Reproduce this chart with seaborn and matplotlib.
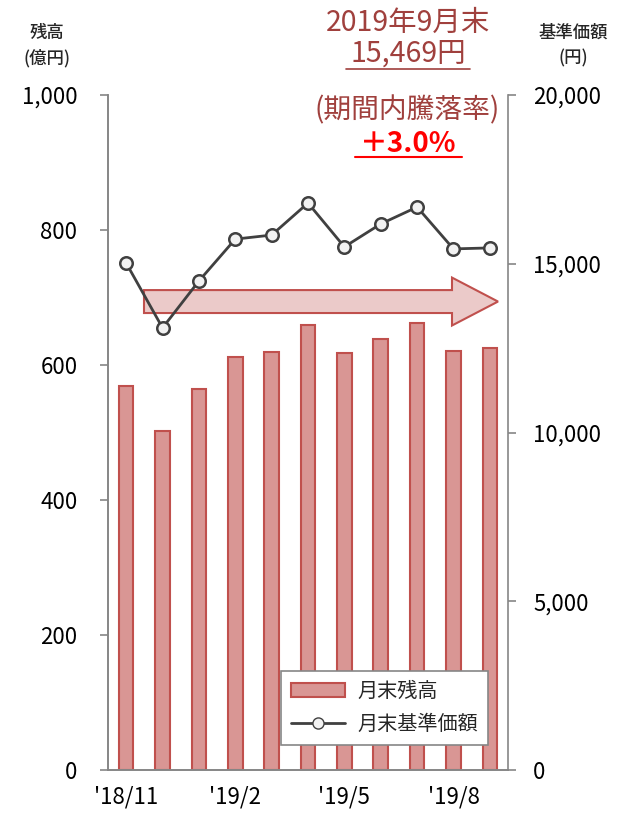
import numpy as np
import pandas as pd
import seaborn as sns
import matplotlib.pyplot as plt
from matplotlib.patches import Patch, FancyArrow
from matplotlib.lines import Line2D

# data
months = ["'18/11", "'18/12", "'19/1", "'19/2", "'19/3", "'19/4",
          "'19/5", "'19/6", "'19/7", "'19/8", "'19/9"]
balance = [569, 502, 564, 612, 619, 659, 618, 639, 662, 621, 625]   # 億円
nav = [15020, 13100, 14490, 15730, 15850, 16800, 15500, 16180, 16680, 15440, 15469]  # 円
shown_labels = {0: "'18/11", 3: "'19/2", 6: "'19/5", 9: "'19/8"}

sns.set_theme(style='white')
plt.rcParams['font.family'] = ['Noto Sans CJK JP', 'DejaVu Sans']

BAR = '#d99694'
BAR_EDGE = '#c0504d'
LINE = '#404040'
SPINE = '#868686'
TXT_RED = '#a0403d'

df = pd.DataFrame({'month': months, 'balance': balance, 'nav': nav})
df['idx'] = range(len(df))

fig = plt.figure(figsize=(6.28, 8.13), dpi=100)
ax = fig.add_axes([108 / 628, 43 / 813, 400 / 628, 675 / 813])

sns.barplot(data=df, x='idx', y='balance', ax=ax, color=BAR, saturation=1,
            width=0.4, edgecolor=BAR_EDGE, linewidth=1.5)
ax.set_xlim(-0.5, 10.5)
ax.set_ylim(0, 1000)
ax.set_yticks([0, 200, 400, 600, 800, 1000])
ax.set_yticklabels(['0', '200', '400', '600', '800', '1,000'])
ax.set_xticks(list(shown_labels.keys()))
ax.set_xticklabels(list(shown_labels.values()))
ax.set_xlabel('')
ax.set_ylabel('')

ax2 = ax.twinx()
sns.lineplot(data=df, x='idx', y='nav', ax=ax2, color=LINE, linewidth=2,
             marker='o', markersize=9, markerfacecolor='#f2f2f2',
             markeredgecolor=LINE, markeredgewidth=1.8)
ax2.set_ylim(0, 20000)
ax2.set_yticks([0, 5000, 10000, 15000, 20000])
ax2.set_yticklabels(['0', '5,000', '10,000', '15,000', '20,000'])
ax2.set_ylabel('')
ax2.set_xlim(-0.5, 10.5)

for a in (ax, ax2):
    for s in a.spines.values():
        s.set_color(SPINE)
        s.set_linewidth(1.2)
    a.spines['top'].set_visible(False)
ax.spines['right'].set_visible(False)
ax.tick_params(axis='y', left=True, length=6, width=1.2, color=SPINE,
               labelsize=16, pad=16, labelcolor='black')
ax.tick_params(axis='x', length=0, labelsize=16, pad=11, labelcolor='black')
ax2.tick_params(axis='y', right=True, length=6, width=1.2, color=SPINE,
                labelsize=16, pad=12, labelcolor='black')

# arrow across the chart
arrow = FancyArrow(0.09, 0.694, 0.885, 0, width=0.034, head_width=0.071,
                   head_length=0.115, length_includes_head=True,
                   transform=ax.transAxes, facecolor='#ebcac9',
                   edgecolor=BAR_EDGE, linewidth=1.5, zorder=1.5)
ax.add_patch(arrow)

# axis titles
for x, lines in ((47, ['残高', '(億円)']), (573, ['基準価額', '(円)'])):
    fig.text(x / 628, 1 - 33 / 813, lines[0], ha='center', va='center',
             fontsize=12.5, fontweight='medium')
    fig.text(x / 628, 1 - 58 / 813, lines[1], ha='center', va='center',
             fontsize=12.5, fontweight='medium')

# annotations
fig.text(408 / 628, 1 - 23 / 813, '2019年9月末', ha='center', va='center',
         fontsize=20.5, color=TXT_RED)
fig.text(408 / 628, 1 - 54 / 813, '15,469円', ha='center', va='center',
         fontsize=20.5, color=TXT_RED)
fig.add_artist(Line2D([346 / 628, 470 / 628], [1 - 69 / 813, 1 - 69 / 813],
                      color=TXT_RED, linewidth=1.2))
fig.text(407 / 628, 1 - 110 / 813, '(期間内騰落率)', ha='center', va='center',
         fontsize=20, color=TXT_RED)
fig.text(408 / 628, 1 - 144 / 813, '＋3.0%', ha='center', va='center',
         fontsize=20, color='#ff0000', fontweight='bold')
fig.add_artist(Line2D([355 / 628, 462 / 628], [1 - 157 / 813, 1 - 157 / 813],
                      color='#ff0000', linewidth=1.5))

handles = [Patch(facecolor=BAR, edgecolor=BAR_EDGE, linewidth=1.5),
           Line2D([0], [0], color=LINE, linewidth=2, marker='o', markersize=8,
                  markerfacecolor='#f2f2f2', markeredgecolor=LINE)]
leg = ax2.legend(handles, ['月末残高', '月末基準価額'], loc='lower right',
                 bbox_to_anchor=(0.975, 0.022), fontsize=14.5, frameon=True,
                 fancybox=False, edgecolor=SPINE, framealpha=1,
                 handlelength=2.7, borderpad=0.5, labelspacing=0.6,
                 handletextpad=0.6)
leg.get_frame().set_linewidth(1.2)

fig.savefig('out.png', dpi=100)
